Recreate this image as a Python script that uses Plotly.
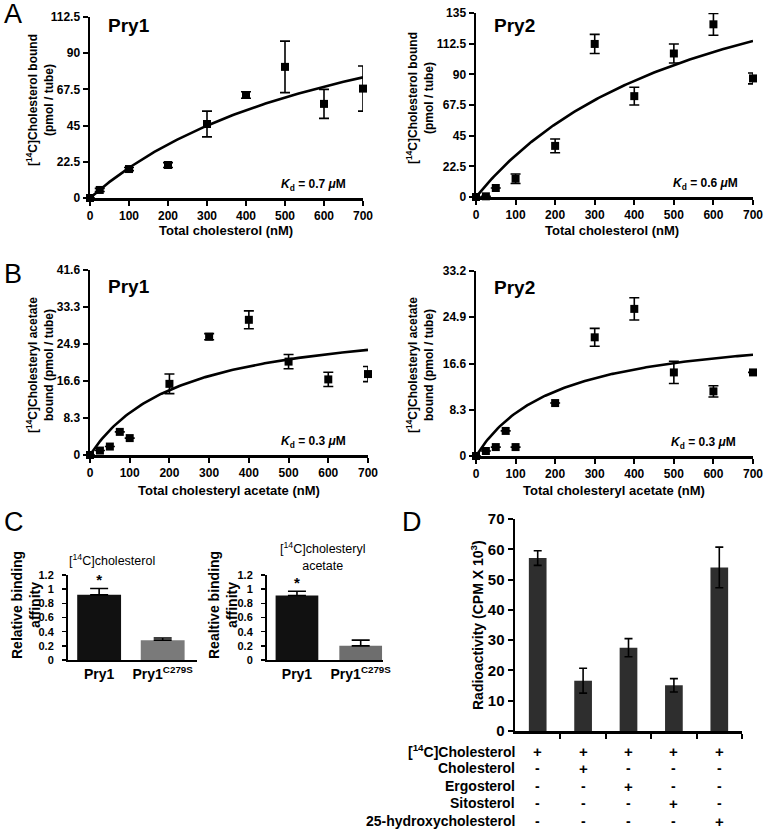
import numpy as np
import plotly.graph_objects as go

W, H = 765, 830
FONT = "Liberation Sans, Arial, Helvetica, sans-serif"

# ---------------- data ----------------
# Panel A: [14C]cholesterol binding
conc_A1 = [0, 25, 100, 200, 300, 400, 500, 600, 700]
pry1_chol = [0, 5, 18, 20.5, 46, 64, 81.5, 58.5, 68]
pry1_chol_err = [0, 1, 1, 1.5, 8, 2, 16, 9, 14]
conc_A2 = [0, 25, 50, 100, 200, 300, 400, 500, 600, 700]
pry2_chol = [0, 0.5, 6.6, 13.4, 37.5, 112.3, 74, 105.3, 126.7, 87]
pry2_chol_err = [0, 0, 0, 3.5, 5, 7, 6.5, 7, 8, 4]

# Panel B: [14C]cholesteryl acetate binding
conc_B = [0, 25, 50, 75, 100, 200, 300, 400, 500, 600, 700]
pry1_ca = [0, 1.0, 1.9, 5.2, 3.8, 16.0, 26.6, 30.4, 21.0, 17.0, 18.2]
pry1_ca_err = [0, 0, 0, 0, 0, 2.2, 0.7, 2.0, 1.6, 1.6, 1.7]
pry2_ca = [0, 0.9, 1.6, 4.5, 1.6, 9.5, 21.3, 26.4, 15.0, 11.6, 15.0]
pry2_ca_err = [0, 0, 0, 0, 0, 0, 1.6, 2.0, 2.0, 1.0, 0]

# one-site binding fits (Bmax, Kd in nM) as drawn
fit_A1 = (150.0, 700.0)
fit_A2 = (211.0, 590.0)
fit_B1 = (31.4, 230.0)
fit_B2 = (23.5, 205.0)
kd_labels = ["0.7", "0.6", "0.3", "0.3"]

yt_A1 = [0, 22.5, 45, 67.5, 90, 112.5]
yt_A1_txt = ["0", "22.5", "45", "67.5", "90", "112.5"]
yt_A2 = [0, 22.5, 45, 67.5, 90, 112.5, 135]
yt_A2_txt = ["0", "22.5", "45", "67.5", "90", "112.5", "135"]
yt_B1 = [0, 8.3, 16.6, 24.9, 33.3, 41.6]
yt_B1_txt = ["0", "8.3", "16.6", "24.9", "33.3", "41.6"]
yt_B2 = [0, 8.3, 16.6, 24.9, 33.2]
yt_B2_txt = ["0", "8.3", "16.6", "24.9", "33.2"]
xt_conc = [0, 100, 200, 300, 400, 500, 600, 700]

# Panel C: relative binding affinity
c_cats = ["Pry1", "Pry1<sup>C279S</sup>"]
c_chol = [0.92, 0.28]
c_chol_err = [0.09, 0.03]
c_ca = [0.91, 0.20]
c_ca_err = [0.06, 0.08]
c_sig = ["*", " "]
c_yt = [0, 0.2, 0.4, 0.6, 0.8, 1.0, 1.2]
c_yt_txt = ["0", "0.2", "0.4", "0.6", "0.8", "1", "1.2"]

# Panel D: competition
d_vals = [57.1, 16.6, 27.5, 15.1, 54.0]
d_err = [2.4, 4.1, 3.0, 2.2, 6.7]
d_rows = ["[<sup>14</sup>C]Cholesterol", "Cholesterol", "Ergosterol", "Sitosterol", "25-hydroxycholesterol"]
d_table = [["+", "+", "+", "+", "+"],
           ["-", "+", "-", "-", "-"],
           ["-", "-", "+", "-", "-"],
           ["-", "-", "-", "+", "-"],
           ["-", "-", "-", "-", "+"]]

# ---------------- helpers ----------------
def px(x):
    return x / W

def py(y):
    return 1 - y / H

def bfont(size):
    return dict(family=FONT, size=size, color="black", weight="bold")

def axis(domain, anchor, rng, **kw):
    d = dict(domain=domain, anchor=anchor, range=rng, showline=True, linecolor="black",
             linewidth=2.5, ticks="outside", ticklen=5, tickwidth=2, tickcolor="black",
             showgrid=False, zeroline=False, tickfont=bfont(12), fixedrange=True,
             automargin=False)
    d.update(kw)
    return d

fig = go.Figure()
ann = []

def binding_panel(i, conc, vals, errs, fit, xdom, ydom, ymax, ytv, ytt, name, kd,
                  title_xy, kd_xy, xtitle, xtitle_xy, ytitle, ytitle_xy):
    xa = "x" if i == 1 else f"x{i}"
    ya = "y" if i == 1 else f"y{i}"
    fig.add_trace(go.Scatter(x=conc, y=vals, mode="markers", xaxis=xa, yaxis=ya,
                             marker=dict(symbol="square", size=8, color="black"),
                             error_y=dict(type="data", array=errs, color="black",
                                          thickness=1.6, width=5),
                             cliponaxis=False, showlegend=False))
    bmax, kdn = fit
    xs = np.linspace(0, 700, 141)
    fig.add_trace(go.Scatter(x=xs, y=bmax * xs / (kdn + xs), mode="lines", xaxis=xa, yaxis=ya,
                             line=dict(color="black", width=2.6), cliponaxis=False,
                             showlegend=False))
    suf = "" if i == 1 else str(i)
    fig.layout["xaxis" + suf] = axis(xdom, ya, [0, 700], tickvals=xt_conc)
    fig.layout["yaxis" + suf] = axis(ydom, xa, [0, ymax], tickvals=ytv, ticktext=ytt)
    ann.append(dict(text=name, x=px(title_xy[0]), y=py(title_xy[1]), xref="paper", yref="paper",
                    xanchor="left", yanchor="middle", showarrow=False, font=bfont(19)))
    ann.append(dict(text=f"<i>K</i><sub>d</sub> = {kd} <i>μ</i>M", x=px(kd_xy[0]), y=py(kd_xy[1]),
                    xref="paper", yref="paper", xanchor="right", yanchor="middle",
                    showarrow=False, font=bfont(12)))
    ann.append(dict(text=xtitle, x=px(xtitle_xy[0]), y=py(xtitle_xy[1]), xref="paper", yref="paper",
                    xanchor="center", yanchor="middle", showarrow=False, font=bfont(13)))
    ann.append(dict(text=ytitle, x=px(ytitle_xy[0]), y=py(ytitle_xy[1]), xref="paper", yref="paper",
                    xanchor="center", yanchor="middle", textangle=-90, showarrow=False,
                    font=bfont(12)))

yt_chol = "[<sup>14</sup>C]Cholesterol bound<br>(pmol / tube)"
yt_ca = "[<sup>14</sup>C]Cholesteryl acetate<br>bound (pmol / tube)"

binding_panel(1, conc_A1, pry1_chol, pry1_chol_err, fit_A1, [px(90), px(363)], [py(198), py(17)],
              112.5, yt_A1, yt_A1_txt, "Pry1", kd_labels[0], (106, 25), (348, 185),
              "Total cholesterol (nM)", (226, 230), yt_chol, (40, 100))
binding_panel(2, conc_A2, pry2_chol, pry2_chol_err, fit_A2, [px(476), px(753)], [py(197), py(13)],
              135, yt_A2, yt_A2_txt, "Pry2", kd_labels[1], (492, 25), (740, 184),
              "Total cholesterol (nM)", (612, 230), yt_chol, (420, 98))
binding_panel(3, conc_B, pry1_ca, pry1_ca_err, fit_B1, [px(90), px(368)], [py(455), py(270)],
              41.6, yt_B1, yt_B1_txt, "Pry1", kd_labels[2], (106, 286), (348, 442),
              "Total cholesteryl acetate (nM)", (229, 490), yt_ca, (40, 365))
binding_panel(4, conc_B, pry2_ca, pry2_ca_err, fit_B2, [px(476), px(753)], [py(456), py(271)],
              33.2, yt_B2, yt_B2_txt, "Pry2", kd_labels[3], (492, 287), (738, 443),
              "Total cholesteryl acetate (nM)", (614, 490), yt_ca, (420, 365))

# ---------------- Panel C ----------------
def c_panel(i, vals, errs, xdom, xr, width, title, title_xy, ytitle, ytitle_x, grey):
    xa, ya = f"x{i}", f"y{i}"
    fig.add_trace(go.Bar(x=[0, 1], y=vals, xaxis=xa, yaxis=ya, width=width,
                         marker=dict(color=["#111111", grey], line=dict(width=0)),
                         error_y=dict(type="data", symmetric=False, array=errs,
                                      arrayminus=[0, 0], color="black", thickness=1.6, width=9),
                         showlegend=False))
    fig.add_trace(go.Scatter(x=[0, 1], y=[v + e + 0.1 for v, e in zip(vals, errs)], text=c_sig,
                             mode="text", textfont=bfont(15), xaxis=xa, yaxis=ya,
                             cliponaxis=False, showlegend=False))
    fig.layout[f"xaxis{i}"] = axis(xdom, ya, xr, ticks="", tickvals=[0, 1], ticktext=c_cats,
                                   tickfont=bfont(14), linewidth=2)
    fig.layout[f"yaxis{i}"] = axis([py(660), py(575)], xa, [0, 1.2], tickvals=c_yt,
                                   ticktext=c_yt_txt, tickfont=bfont(11), ticklen=4, tickwidth=1.5,
                                   linewidth=2, ticklabelstandoff=6)
    ann.append(dict(text=title, x=px(title_xy[0]), y=py(title_xy[1]), xref="paper", yref="paper",
                    xanchor="center", yanchor="middle", showarrow=False,
                    font=dict(family=FONT, size=12.5, color="black")))
    ann.append(dict(text=ytitle, x=px(ytitle_x), y=py(605), xref="paper", yref="paper",
                    xanchor="center", yanchor="middle", textangle=-90, showarrow=False,
                    font=bfont(14)))

c_panel(5, c_chol, c_chol_err, [px(68), px(197)], [-0.49, 1.54], 0.69,
        "[<sup>14</sup>C]cholesterol", (112, 560), "Relative binding<br>affinity", 26, "#7a7a7a")
c_panel(6, c_ca, c_ca_err, [px(267), px(383)], [-0.47, 1.35], 0.67,
        "[<sup>14</sup>C]cholesteryl<br>acetate", (322, 556), "Realtive binding<br>affinity", 223,
        "#6e6e6e")

# ---------------- Panel D ----------------
xd = list(range(len(d_vals)))
fig.add_trace(go.Bar(x=xd, y=d_vals, xaxis="x7", yaxis="y7", width=0.39,
                     marker=dict(color="#2e2e2e", line=dict(width=0)),
                     error_y=dict(type="data", array=d_err, color="black", thickness=1.6, width=4),
                     showlegend=False))
fig.layout["xaxis7"] = axis([px(515), px(742)], "y7", [-0.5, 4.5], tickvals=[0.5, 1.5, 2.5, 3.5, 4.5],
                            showticklabels=False, linewidth=2.5)
fig.layout["yaxis7"] = axis([py(731), py(519)], "x7", [0, 70], tickvals=list(range(0, 71, 10)),
                            tickfont=bfont(15))
ann.append(dict(text="Radioactivity (CPM X 10<sup>3</sup>)", x=px(477), y=py(625), xref="paper",
                yref="paper", xanchor="center", yanchor="middle", textangle=-90, showarrow=False,
                font=bfont(14)))
row_y = [751, 768, 786, 803, 821]
for r, label in enumerate(d_rows):
    ann.append(dict(text=label, x=px(517), y=py(row_y[r]), xref="paper", yref="paper",
                    xanchor="right", yanchor="middle", showarrow=False, font=bfont(14)))
    for c, sym in enumerate(d_table[r]):
        ann.append(dict(text=sym, x=xd[c], y=py(row_y[r]), xref="x7", yref="paper",
                        xanchor="center", yanchor="middle", showarrow=False,
                        font=bfont(15 if sym == "+" else 14)))

# panel letters
for letter, (lx, ly) in zip(["A", "B", "C", "D"], [(2, 14), (2, 274), (2, 522), (400, 522)]):
    ann.append(dict(text=letter, x=px(lx), y=py(ly), xref="paper", yref="paper", xanchor="left",
                    yanchor="middle", showarrow=False, font=dict(family=FONT, size=27, color="black")))

fig.update_layout(template="none", width=W, height=H, autosize=False,
                  margin=dict(l=0, r=0, t=0, b=0, pad=0), plot_bgcolor="white",
                  paper_bgcolor="white", annotations=ann, showlegend=False,
                  font=dict(family=FONT, color="black"))

fig.write_html("out.html", config={"displayModeBar": False, "staticPlot": True},
               post_script="document.body.style.margin='0px';document.body.style.padding='0px';"
                           "document.body.style.overflow='hidden';")
